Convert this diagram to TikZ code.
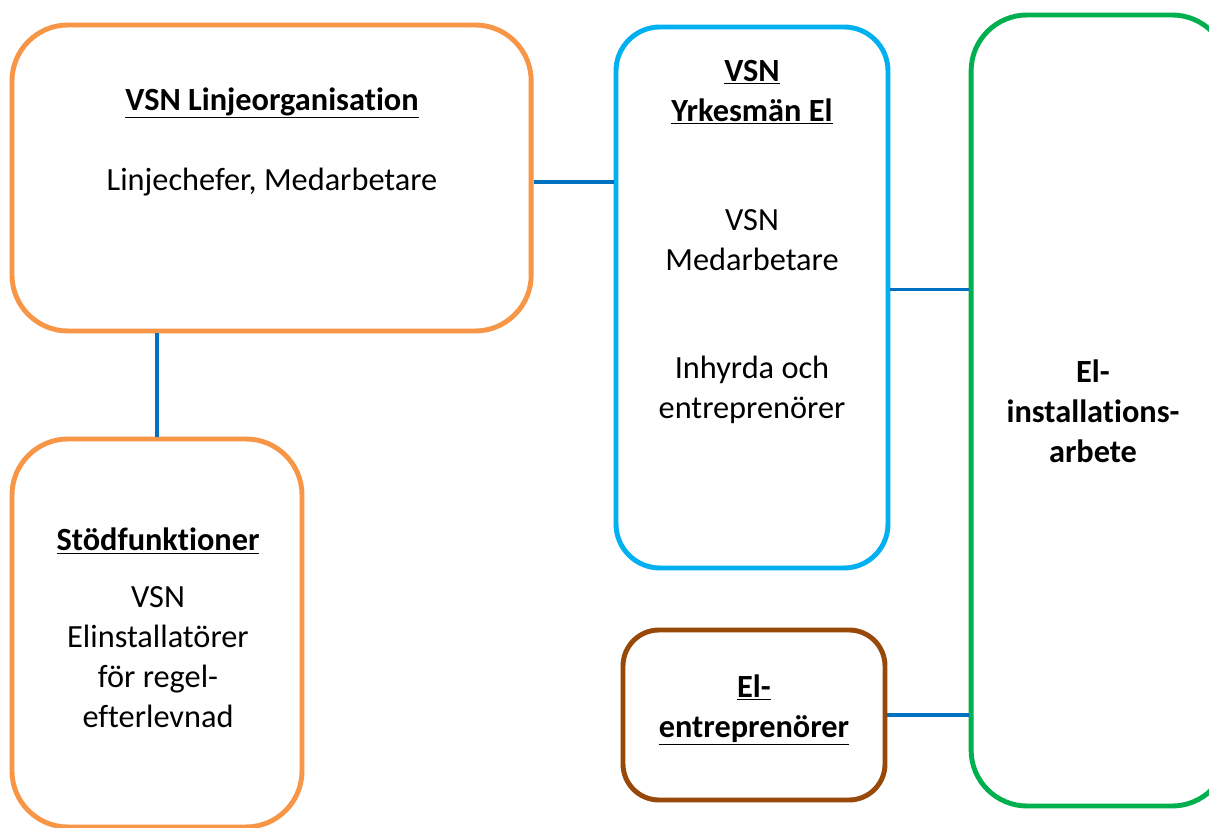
\documentclass[tikz,border=0pt]{standalone}
\usepackage{fontspec}
\setmainfont{Carlito}[Ligatures=NoCommon]
\definecolor{boxorange}{HTML}{F79646}
\definecolor{boxblue}{HTML}{00B0F0}
\definecolor{boxgreen}{HTML}{00B050}
\definecolor{boxbrown}{HTML}{984807}
\definecolor{linkblue}{HTML}{0070C0}
\newcommand{\rubrik}[1]{\underline{\textbf{#1}}}
\begin{document}
\begin{tikzpicture}[
        ram/.style = {draw, line width = 3.5pt, rounded corners = 1.4cm, fill = white},
        txt/.style = {align = center, font = \fontsize{23}{28.5}\selectfont},
        link/.style = {draw = linkblue, line width = 2.2pt}
    ]
        \clip (0, 0) rectangle (30.225, 20.7);
        \fill[white] (0, 0) rectangle (30.225, 20.7);
        % rutor
        \node[ram, draw = boxorange, minimum width = 12.98cm, minimum height = 7.65cm] (linje) at (6.79, 16.25) {};
        \node[ram, draw = boxorange, minimum width = 7.25cm, minimum height = 9.7cm] (stod) at (3.925, 4.875) {};
        \node[ram, draw = boxblue, rounded corners = 1.1cm, minimum width = 6.8cm, minimum height = 13.525cm] (yrkes) at (18.8, 13.2625) {};
        \node[ram, draw = boxbrown, rounded corners = 0.9cm, minimum width = 6.55cm, minimum height = 4.25cm] (entr) at (18.85, 2.825) {};
        \node[ram, draw = boxgreen, minimum width = 6.425cm, minimum height = 19.775cm] (arbete) at (27.49, 10.4375) {};
        % texter
        \node[txt] (linjerubrik) at (6.8, 18.125) {\rubrik{VSN Linjeorganisation}};
        \node[txt] (linjetext) at (6.8, 16.15) {Linjechefer, Medarbetare};
        \node[txt] (yrkesrubrik) at (18.8, 18.4) {\rubrik{VSN}\\\rubrik{Yrkesmän El}};
        \node[txt] (yrkestext) at (18.8, 14.7) {VSN\\Medarbetare};
        \node[txt] (inhyrda) at (18.8, 10.95) {Inhyrda och\\entreprenörer};
        \node[txt] (stodrubrik) at (3.95, 7.175) {\rubrik{Stödfunktioner}};
        \node[txt] (stodtext) at (3.95, 4.275) {VSN\\Elinstallatörer\\för regel-\\efterlevnad};
        \node[txt] (entrtext) at (18.85, 2.95) {\rubrik{El-}\\\rubrik{entreprenörer}};
        \node[txt, font = \fontsize{23}{28.5}\selectfont\bfseries] (arbetetext) at (27.325, 10.425) {El-\\installations-\\arbete};
        % linjer
        \draw[link] ([yshift = -1mm]linje.east) -- ([yshift = -1mm]linje.east -| yrkes.west);
        \draw[link] (stod.north) -- (stod.north |- linje.south);
        \draw[link] ([yshift = 1.9mm]yrkes.east) -- ([yshift = 1.9mm]yrkes.east -| arbete.west);
        \draw[link] (entr.east) -- (entr.east -| arbete.west);
    \end{tikzpicture}
\end{document}
